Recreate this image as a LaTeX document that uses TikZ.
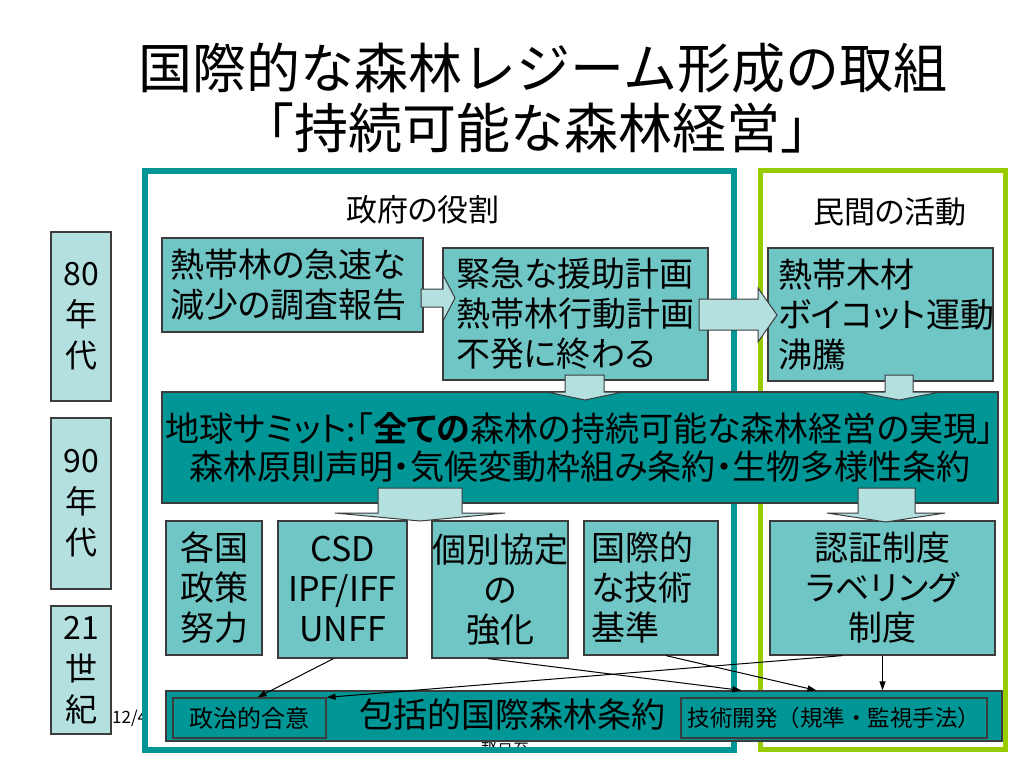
\documentclass[tikz,border=0pt]{standalone}
\usepackage{fontspec}
\setmainfont{Noto Sans CJK JP}[RawFeature=+palt, BoldFont={Noto Sans CJK JP Bold}]
\newfontfamily\fullwidthfont{Noto Sans CJK JP}
\usetikzlibrary{arrows.meta}
\definecolor{tealline}{RGB}{0,150,150}
\definecolor{greenline}{RGB}{153,204,0}
\definecolor{darkfill}{RGB}{0,150,150}
\definecolor{boxfill}{RGB}{112,197,197}
\definecolor{palefill}{RGB}{180,224,224}
\definecolor{outline}{RGB}{60,60,60}
\begin{document}
\begin{tikzpicture}[x=1pt,y=-1pt,
  ybox/.style={draw=outline, fill=palefill, line width=1.2pt, inner sep=0pt, align=center,
     font=\fontsize{32}{41}\selectfont},
  lbox/.style={draw=outline, fill=boxfill, line width=1.2pt, inner sep=0pt,
     font=\fontsize{34}{40}\selectfont},
  dbox/.style={draw=outline, fill=darkfill, line width=1.2pt, inner sep=0pt},
  blockarrow/.style={draw=outline, fill=palefill, line width=1pt, line join=miter},
  thinarrow/.style={draw=black, line width=1pt, -{Triangle[length=9pt,width=6pt]}},
  hdr/.style={font=\fontsize{31}{36}\selectfont},
  ttl/.style={font=\fullwidthfont\fontsize{54}{60}\selectfont}
]
\useasboundingbox (0,0) rectangle (1024,768);
\fill[white] (0,0) rectangle (1024,768);

% title
\node[ttl] (t1) at (543,68) {国際的な森林レジーム形成の取組};
\node[ttl] (t2) at (537,128) {「持続可能な森林経営」};

% footer texts (partly hidden)
\node[font=\fontsize{17}{19}\selectfont, anchor=west, inner sep=0pt] (date) at (112,718) {12/4};
\node[font=\fontsize{16}{18}\selectfont, inner sep=0pt] (rep) at (505,742) {報告会};

% section frames
\draw[tealline, line width=6pt] (144.5,170.5) rectangle (734,750);
\draw[greenline, line width=5pt] (760.5,170.5) rectangle (1005.5,749.5);

\node[hdr] (gov) at (423,210) {政府の役割};
\node[hdr] (priv) at (890,212) {民間の活動};

% decades
\node[ybox, minimum width=60pt, minimum height=169pt] (y80) at (81,316.5) {80\\年\\代};
\node[ybox, minimum width=60pt, minimum height=171pt] (y90) at (81,503.5) {90\\年\\代};
\node[ybox, minimum width=60pt, minimum height=128pt] (y21) at (81,670) {21\\世\\紀};

% 80s boxes
\node[lbox, minimum width=261pt, minimum height=94pt, text width=245pt, align=left] (survey) at (292.5,285) {熱帯林の急速な\\減少の調査報告};
\node[lbox, minimum width=265pt, minimum height=132pt, text width=239pt, align=left] (plan) at (575.5,314) {緊急な援助計画\\熱帯林行動計画\\不発に終わる};
\node[lbox, minimum width=225pt, minimum height=133pt, text width=205pt, align=left] (boycott) at (880.5,314.5) {熱帯木材\\ボイコット運動\\沸騰};

% summit
\node[dbox, minimum width=836pt, minimum height=111pt, align=center, font=\fontsize{34}{38}\selectfont] (summit) at (580,447.5)
  {地球サミット:「\textbf{全ての}森林の持続可能な森林経営の実現」\\森林原則声明・気候変動枠組み条約・生物多様性条約};

% 90s boxes
\node[lbox, minimum width=96pt, minimum height=134pt, align=center] (natl) at (214,588) {各国\\政策\\努力};
\node[lbox, minimum width=129pt, minimum height=137pt, align=center] (csd) at (342.5,589.5) {CSD\\IPF/IFF\\UNFF};
\node[lbox, minimum width=136pt, minimum height=137pt, align=center] (indiv) at (500,589.5) {個別協定\\の\\強化};
\node[lbox, minimum width=134pt, minimum height=134pt, text width=120pt, align=left] (intl) at (651,588) {国際的\\な技術\\基準};
\node[lbox, minimum width=225pt, minimum height=134pt, align=center] (cert) at (882.5,588) {認証制度\\ラベリング\\制度};

% 21st century
\node[dbox, minimum width=836pt, minimum height=50pt] (treaty) at (584,716) {};
\node[font=\fontsize{34}{40}\selectfont, inner sep=0pt] (treatytxt) at (512,715) {包括的国際森林条約};
\node[dbox, minimum width=153pt, minimum height=40pt, font=\fontsize{24}{28}\selectfont] (polit) at (249.5,718) {政治的合意};
\node[dbox, minimum width=306pt, minimum height=40pt, font=\fullwidthfont\fontsize{22.5}{26}\selectfont] (tech) at (834,718) {技術開発（規準・監視手法）};

% block arrows
\draw[blockarrow] (421,289) -- (443,289) -- (443,275) -- (455,298) -- (443,321) -- (443,307) -- (421,307) -- cycle;
\draw[blockarrow] (699,299) -- (758,299) -- (758,288) -- (777,315) -- (758,342) -- (758,330) -- (699,330) -- cycle;
\draw[blockarrow] (565,375) -- (565,392) -- (547,392) -- (585,400) -- (623,392) -- (604,392) -- (604,375) -- cycle;
\draw[blockarrow] (885,375) -- (885,392) -- (858,392) -- (899,400) -- (940,392) -- (913,392) -- (913,375) -- cycle;
\draw[blockarrow] (378,488) -- (378,513) -- (335,513) -- (420,521) -- (505,513) -- (462,513) -- (462,488) -- cycle;
\draw[blockarrow] (858,488) -- (858,513) -- (827,513) -- (886,522) -- (945,513) -- (915,513) -- (915,488) -- cycle;

% thin connectors
\draw[thinarrow] ([xshift=-9pt]csd.south) -- ([xshift=8pt]polit.north);
\draw[thinarrow] ([xshift=-40pt]cert.south) -- (polit.north east);
\draw[thinarrow] ([xshift=-12pt]indiv.south) -- ([xshift=576pt]treaty.north west);
\draw[thinarrow] ([xshift=15pt]intl.south) -- ([xshift=651pt]treaty.north west);
\draw[thinarrow] (cert.south) -- (cert.south |- treaty.north);
\end{tikzpicture}
\end{document}
